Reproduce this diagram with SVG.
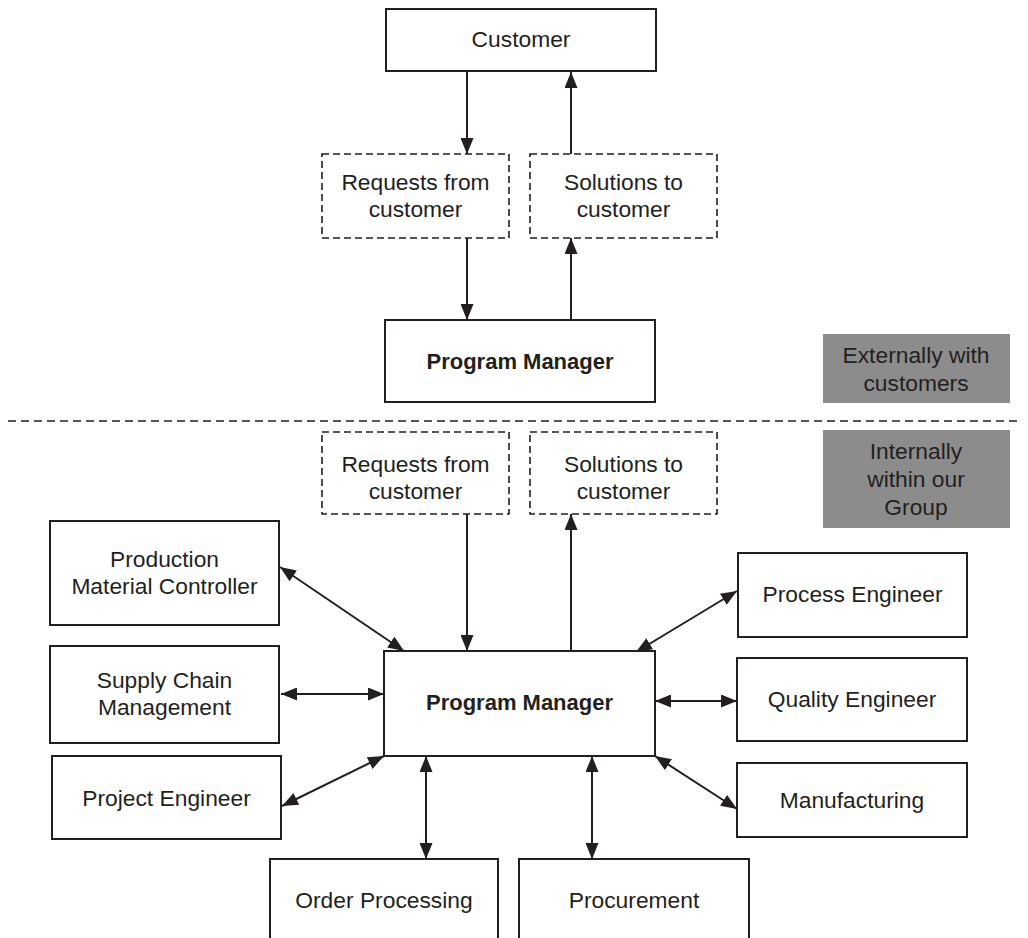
<svg xmlns="http://www.w3.org/2000/svg" width="1028" height="938" viewBox="0 0 1028 938">
<style>
.box{fill:#fff;stroke:#231f20;stroke-width:2}
.dbox{fill:#fff;stroke:#231f20;stroke-width:1.6;stroke-dasharray:7,4}
.gbox{fill:#8c8c8c;stroke:none}
.t{font-family:"Liberation Sans",Arial,sans-serif;font-size:22.8px;fill:#231f20;text-anchor:middle}
.b{font-weight:bold;font-size:22px}
.c{stroke:#231f20;stroke-width:2;fill:none}
</style>
<defs>
<marker id="ah" markerUnits="userSpaceOnUse" markerWidth="17" markerHeight="13" refX="16" refY="6.5" orient="auto-start-reverse">
<path d="M0,0 L16,6.5 L0,13 z" fill="#231f20"/>
</marker>
</defs>
<rect width="1028" height="938" fill="#fff"/>
<line x1="8" y1="421" x2="1022" y2="421" stroke="#231f20" stroke-width="1.6" stroke-dasharray="8,5"/>
<g id="connectors">
<line class="c" x1="467" y1="71" x2="467" y2="154" marker-end="url(#ah)"/>
<line class="c" x1="571" y1="154" x2="571" y2="72" marker-end="url(#ah)"/>
<line class="c" x1="467" y1="238" x2="467" y2="320" marker-end="url(#ah)"/>
<line class="c" x1="571" y1="320" x2="571" y2="238" marker-end="url(#ah)"/>
<line class="c" x1="467" y1="514" x2="467" y2="651" marker-end="url(#ah)"/>
<line class="c" x1="571" y1="651" x2="571" y2="514" marker-end="url(#ah)"/>
<line class="c" x1="280" y1="567" x2="404" y2="651" marker-start="url(#ah)" marker-end="url(#ah)"/>
<line class="c" x1="281" y1="694" x2="384" y2="694" marker-start="url(#ah)" marker-end="url(#ah)"/>
<line class="c" x1="282" y1="806" x2="384" y2="756" marker-start="url(#ah)" marker-end="url(#ah)"/>
<line class="c" x1="426" y1="756" x2="426" y2="859" marker-start="url(#ah)" marker-end="url(#ah)"/>
<line class="c" x1="592" y1="756" x2="592" y2="859" marker-start="url(#ah)" marker-end="url(#ah)"/>
<line class="c" x1="655" y1="756" x2="737" y2="809" marker-start="url(#ah)" marker-end="url(#ah)"/>
<line class="c" x1="655" y1="701" x2="737" y2="701" marker-start="url(#ah)" marker-end="url(#ah)"/>
<line class="c" x1="636" y1="652" x2="737" y2="591" marker-start="url(#ah)" marker-end="url(#ah)"/>
</g>
<g id="customer"><rect class="box" x="386" y="9" width="270" height="62"/><text class="t" x="521" y="47">Customer</text></g>
<g id="requests-top"><rect class="dbox" x="322" y="154" width="187" height="84"/><text class="t" x="415.5" y="190">Requests from</text><text class="t" x="415.5" y="217">customer</text></g>
<g id="solutions-top"><rect class="dbox" x="530" y="154" width="187" height="84"/><text class="t" x="623.5" y="190">Solutions to</text><text class="t" x="623.5" y="217">customer</text></g>
<g id="pm-top"><rect class="box" x="385" y="320" width="270" height="82"/><text class="t b" x="520" y="369">Program Manager</text></g>
<g id="externally"><rect class="gbox" x="823" y="334" width="187" height="69"/><text class="t" x="916" y="363">Externally with</text><text class="t" x="916" y="391">customers</text></g>
<g id="internally"><rect class="gbox" x="823" y="430" width="187" height="98"/><text class="t" x="916" y="459">Internally</text><text class="t" x="916" y="487">within our</text><text class="t" x="916" y="515">Group</text></g>
<g id="requests-bottom"><rect class="dbox" x="322" y="432" width="187" height="82"/><text class="t" x="415.5" y="472">Requests from</text><text class="t" x="415.5" y="499">customer</text></g>
<g id="solutions-bottom"><rect class="dbox" x="530" y="432" width="187" height="82"/><text class="t" x="623.5" y="472">Solutions to</text><text class="t" x="623.5" y="499">customer</text></g>
<g id="pm-bottom"><rect class="box" x="384" y="651" width="271" height="105"/><text class="t b" x="519.5" y="710">Program Manager</text></g>
<g id="pmc"><rect class="box" x="50" y="521" width="229" height="104"/><text class="t" x="164.5" y="567">Production</text><text class="t" x="164.5" y="594">Material Controller</text></g>
<g id="scm"><rect class="box" x="50" y="646" width="229" height="97"/><text class="t" x="164.5" y="688">Supply Chain</text><text class="t" x="164.5" y="715">Management</text></g>
<g id="project-engineer"><rect class="box" x="52" y="756" width="229" height="83"/><text class="t" x="166.5" y="806">Project Engineer</text></g>
<g id="process-engineer"><rect class="box" x="738" y="553" width="229" height="84"/><text class="t" x="852.5" y="602">Process Engineer</text></g>
<g id="quality-engineer"><rect class="box" x="737" y="658" width="230" height="83"/><text class="t" x="852" y="707">Quality Engineer</text></g>
<g id="manufacturing"><rect class="box" x="737" y="763" width="230" height="74"/><text class="t" x="852" y="808">Manufacturing</text></g>
<g id="order-processing"><rect class="box" x="270" y="859" width="228" height="100"/><text class="t" x="384" y="908">Order Processing</text></g>
<g id="procurement"><rect class="box" x="519" y="859" width="230" height="100"/><text class="t" x="634" y="908">Procurement</text></g>
</svg>
